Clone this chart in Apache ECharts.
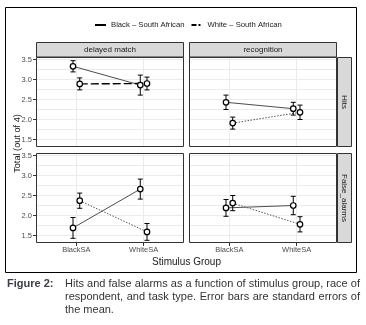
<!DOCTYPE html>
<html>
<head>
<meta charset="utf-8">
<script src="https://cdn.jsdelivr.net/npm/echarts@6/dist/echarts.min.js"></script>
<style>
  html, body { margin: 0; padding: 0; background: #fff; }
  #wrap { position: relative; width: 366px; height: 325px; }
  #chart { position: absolute; left: 0; top: 0; width: 366px; height: 325px; }
  .cap { position: absolute; font-family: "Liberation Sans Narrow", "Liberation Sans", Arial, sans-serif;
         font-size: 11px; line-height: 13px; color: #333; }
  .fig { left: 7px; top: 277px; font-weight: bold; color: #3a3d4a; }
  .txt { left: 65px; top: 277px; width: 295px; }
  .j { text-align: justify; text-align-last: justify; }
</style>
</head>
<body>
<div id="wrap">
  <div id="chart"></div>
  <div class="cap fig">Figure 2:</div>
  <div class="cap txt">
    <div class="j">Hits and false alarms as a function of stimulus group, race of</div>
    <div class="j">respondent, and task type. Error bars are standard errors of</div>
    <div>the mean.</div>
  </div>
</div>
<script>
const categories = ["BlackSA", "WhiteSA"];
const tasks = ["delayed match", "recognition"];
const measures = ["Hits", "False_alarms"];
const raceNames = ["Black – South African", "White – South African"];
const yTicks = [1.5, 2.0, 2.5, 3.0, 3.5];

// means, [BlackSA, WhiteSA]
const hitsDelayedBlack = [3.33, 2.86];
const hitsDelayedWhite = [2.89, 2.90];
const hitsRecogBlack = [2.43, 2.27];
const hitsRecogWhite = [1.91, 2.18];
const faDelayedBlack = [1.69, 2.66];
const faDelayedWhite = [2.37, 1.59];
const faRecogBlack = [2.19, 2.25];
const faRecogWhite = [2.31, 1.78];

// standard errors
const hitsDelayedBlackSE = [0.14, 0.25];
const hitsDelayedWhiteSE = [0.15, 0.16];
const hitsRecogBlackSE = [0.18, 0.16];
const hitsRecogWhiteSE = [0.15, 0.18];
const faDelayedBlackSE = [0.26, 0.25];
const faDelayedWhiteSE = [0.19, 0.21];
const faRecogBlackSE = [0.21, 0.23];
const faRecogWhiteSE = [0.19, 0.19];

const panels = [
  { black: hitsDelayedBlack, blackSE: hitsDelayedBlackSE, white: hitsDelayedWhite, whiteSE: hitsDelayedWhiteSE },
  { black: hitsRecogBlack, blackSE: hitsRecogBlackSE, white: hitsRecogWhite, whiteSE: hitsRecogWhiteSE },
  { black: faDelayedBlack, blackSE: faDelayedBlackSE, white: faDelayedWhite, whiteSE: faDelayedWhiteSE },
  { black: faRecogBlack, blackSE: faRecogBlackSE, white: faRecogWhite, whiteSE: faRecogWhiteSE },
];

const FONT = "Liberation Sans, Arial, sans-serif";
const dodge = 0.05;
const gridPos = [
  { left: 36, top: 57 }, { left: 189, top: 57 },
  { left: 36, top: 153 }, { left: 189, top: 153 },
];
const PW = 148, PH = 90;
const Y_MIN = 1.3125, Y_MAX = 3.5625;
// only every 5th x tick (1, 2) and every 4th y tick (quarter values) gets a grid line
const xGridColors = ["transparent", "transparent", "transparent", "#ebebeb", "transparent"];
const yGridColors = ["transparent", "transparent", "transparent", "#ebebeb"];

function renderErrorBar(params, api) {
  const x = api.value(0);
  const lo = api.coord([x, api.value(1)]);
  const hi = api.coord([x, api.value(2)]);
  const hw = 2.5;
  const st = { stroke: "#000", lineWidth: 1 };
  return {
    type: "group",
    children: [
      { type: "line", shape: { x1: hi[0], y1: hi[1], x2: lo[0], y2: lo[1] }, style: st },
      { type: "line", shape: { x1: hi[0] - hw, y1: hi[1], x2: hi[0] + hw, y2: hi[1] }, style: st },
      { type: "line", shape: { x1: lo[0] - hw, y1: lo[1], x2: lo[0] + hw, y2: lo[1] }, style: st },
    ],
  };
}

function label(text, x, y, size, rotation) {
  return { type: "text", z: 101, silent: true, x, y, rotation: rotation || 0,
    style: { text, fill: "#1a1a1a", font: size + "px " + FONT, align: "center", verticalAlign: "middle" } };
}

const grids = [], xAxes = [], yAxes = [], series = [], graphics = [];

// legend-only series
series.push(
  { name: raceNames[0], type: "line", data: [], symbol: "none", xAxisIndex: 0, yAxisIndex: 0,
    color: "#000", lineStyle: { color: "#000", width: 1 } },
  { name: raceNames[1], type: "line", data: [], symbol: "none", xAxisIndex: 0, yAxisIndex: 0,
    color: "#000", lineStyle: { color: "#000", width: 1, type: [5, 2, 2, 2] } }
);

panels.forEach((p, g) => {
  const bottom = g >= 2, left = g % 2 === 0;
  grids.push({ left: gridPos[g].left, top: gridPos[g].top, width: PW, height: PH, show: true,
    backgroundColor: "#fff", borderWidth: 0 });

  const xA = { type: "value", gridIndex: g, min: 0.4, max: 2.6,
    axisLine: { show: false }, splitLine: { show: false }, axisTick: { show: false }, axisLabel: { show: false } };
  if (bottom) {
    xA.axisTick = { show: true, customValues: [1, 2], length: 3, lineStyle: { color: "#333" } };
    xA.axisLabel = { show: true, customValues: [1, 2], margin: 3, fontSize: 7.5, color: "#4d4d4d", fontFamily: FONT,
      formatter: (v) => Math.abs(v - Math.round(v)) < 1e-6 ? (categories[Math.round(v) - 1] || "") : "" };
  }
  const yA = { type: "value", gridIndex: g, min: Y_MIN, max: Y_MAX,
    axisLine: { show: false }, splitLine: { show: false }, axisTick: { show: false }, axisLabel: { show: false } };
  if (left) {
    yA.axisTick = { show: true, customValues: yTicks, length: 3, lineStyle: { color: "#333" } };
    yA.axisLabel = { show: true, customValues: yTicks, margin: 4, fontSize: 7.5, color: "#4d4d4d", fontFamily: FONT,
      formatter: (v) => v.toFixed(1) };
  }
  xAxes.push(xA,
    { type: "value", gridIndex: g, min: 0.4, max: 2.6, interval: 0.2, position: "bottom",
      axisLine: { show: false }, axisTick: { show: false }, axisLabel: { show: false },
      splitLine: { show: true, lineStyle: { color: xGridColors, width: 1 } } });
  yAxes.push(yA,
    { type: "value", gridIndex: g, min: Y_MIN, max: Y_MAX, interval: 0.0625, position: "left",
      axisLine: { show: false }, axisTick: { show: false }, axisLabel: { show: false },
      splitLine: { show: true, lineStyle: { color: yGridColors, width: 1 } } });

  const xa = 2 * g, ya = 2 * g;
  const bx = [1 - dodge, 2 - dodge], wx = [1 + dodge, 2 + dodge];
  const whiteStyle = g === 0
    ? { color: "#000", width: 1.4, type: [8, 3] }
    : { color: "#555", width: 1, type: [1.5, 1.5] };

  series.push(
    { name: raceNames[0], type: "line", xAxisIndex: xa, yAxisIndex: ya, symbol: "none", z: 2,
      lineStyle: { color: "#4d4d4d", width: 1 }, silent: true,
      data: p.black.map((m, i) => [bx[i], m]) },
    { name: raceNames[1], type: "line", xAxisIndex: xa, yAxisIndex: ya, symbol: "none", z: 2,
      lineStyle: whiteStyle, silent: true,
      data: p.white.map((m, i) => [wx[i], m]) },
    { type: "custom", xAxisIndex: xa, yAxisIndex: ya, z: 3, silent: true,
      renderItem: renderErrorBar, encode: { x: 0, y: [1, 2] },
      data: [
        ...p.black.map((m, i) => [bx[i], m - p.blackSE[i], m + p.blackSE[i]]),
        ...p.white.map((m, i) => [wx[i], m - p.whiteSE[i], m + p.whiteSE[i]]),
      ] },
    { type: "scatter", xAxisIndex: xa, yAxisIndex: ya, z: 4, silent: true,
      symbol: "circle", symbolSize: 5.5,
      itemStyle: { color: "#fff", borderColor: "#000", borderWidth: 1.2, opacity: 1 },
      data: [...p.black.map((m, i) => [bx[i], m]), ...p.white.map((m, i) => [wx[i], m])] }
  );

  // panel border
  graphics.push({ type: "rect", z: 100, silent: true,
    shape: { x: gridPos[g].left + 0.5, y: gridPos[g].top + 0.5, width: PW - 1, height: PH - 1 },
    style: { fill: null, stroke: "#333", lineWidth: 1 } });
});

// top strips
tasks.forEach((t, i) => {
  const x = gridPos[i].left;
  graphics.push(
    { type: "rect", z: 100, silent: true, shape: { x: x + 0.5, y: 42.5, width: PW - 1, height: 14.5 },
      style: { fill: "#d9d9d9", stroke: "#333", lineWidth: 1 } },
    label(t, x + PW / 2, 50, 8)
  );
});

// right strips
measures.forEach((m, i) => {
  const y = gridPos[i * 2].top;
  graphics.push(
    { type: "rect", z: 100, silent: true, shape: { x: 337.5, y: y + 0.5, width: 14, height: PH - 1 },
      style: { fill: "#d9d9d9", stroke: "#333", lineWidth: 1 } },
    label(m, 344.5, y + PH / 2, 8, -Math.PI / 2)
  );
});

// axis titles and frame
graphics.push(
  label("Total (out of 4)", 17, 143.5, 9.2, Math.PI / 2),
  label("Stimulus Group", 186.5, 262, 10),
  { type: "rect", z: 100, silent: true, shape: { x: 5.5, y: 7.5, width: 351, height: 265 },
    style: { fill: null, stroke: "#000", lineWidth: 1 } }
);

const chart = echarts.init(document.getElementById("chart"), null, { renderer: "canvas" });
chart.setOption({
  animation: false,
  backgroundColor: "#fff",
  textStyle: { fontFamily: FONT },
  legend: {
    left: 89, top: 16, itemWidth: 11, itemHeight: 8, itemGap: 6,
    data: raceNames,
    itemStyle: { opacity: 0 },
    textStyle: { fontSize: 7.7, color: "#1a1a1a", fontFamily: FONT },
  },
  grid: grids,
  xAxis: xAxes,
  yAxis: yAxes,
  series: series,
  graphic: graphics,
});
</script>
</body>
</html>
